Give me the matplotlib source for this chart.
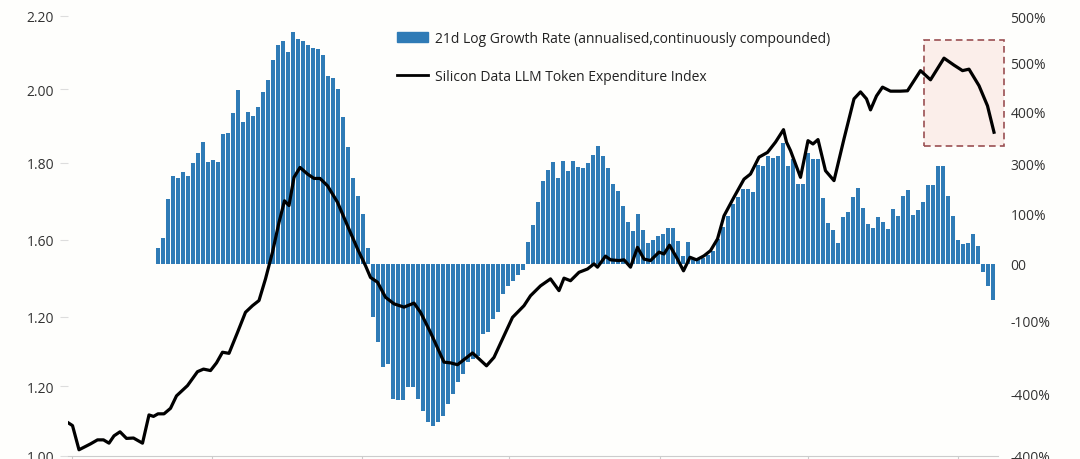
import matplotlib.pyplot as plt
import matplotlib.patches as mpatches
from matplotlib.lines import Line2D
import numpy as np

plt.rcParams['font.family'] = ['Open Sans', 'DejaVu Sans']

# 21d log growth rate, one bar per day (right axis units)
growth = [32, 52, 130, 176, 172, 184, 176, 202, 222, 244, 204, 208, 204, 260, 262,
          302, 348, 284, 304, 296, 314, 344, 368, 408, 438, 446, 424, 464, 450, 446,
          438, 432, 430, 418, 376, 372, 350, 294, 234, 172, 136, 100, 32,
          -106, -156, -206, -200, -270, -272, -272, -246, -246, -270, -294, -316, -324,
          -316, -304, -280, -260, -236, -220, -196, -190, -184, -140, -136, -110, -96,
          -60, -44, -34, -22, -12,
          44, 78, 124, 166, 188, 204, 172, 206, 186, 206, 194, 192, 202, 218, 236, 216,
          192, 160, 146, 116, 84, 66, 100, 68, 42, 48, 56, 60, 72, 72, 46, 16, 44, 12, 10,
          12, 18, 26, 50, 74, 96, 120, 134, 150, 150, 144, 198, 196, 216, 212, 216, 242,
          196, 210, 160, 160, 222, 210, 210, 132, 82, 68, 42, 94, 104, 134, 152, 112, 80,
          72, 94, 84, 70, 110, 96, 136, 148, 98, 108, 124, 158, 158, 196, 196, 136, 96,
          48, 40, 42, 60, 36, -16, -44, -72]
days = np.arange(len(growth))

# Silicon Data LLM Token Expenditure Index (left axis)
index_t = [-17.9, -17.1, -15.8, -14.5, -13.5, -12.1, -10.9, -9.8, -8.8, -7.6, -6.3, -4.9,
           -3.1, -1.8, -0.9, 0, 1.2, 2.5, 3.7, 5.9, 7.9, 9.1, 10.5, 11.7, 12.9, 14.2, 15.9,
           17.5, 18.9, 20.2, 21.5, 22.9, 24.2, 25.3, 26.2, 27.2, 28.4, 29.9, 31.2, 32.4,
           33.9, 35.9, 37.9, 39.9, 41.5, 42.5, 43.9, 45.5, 47.2, 49.2, 51.2, 52.5, 54.5,
           57.2, 58.5, 59.9, 61.5, 62.9, 64.2, 65.7, 67.2, 69.2, 70.9, 73.2, 74.5, 76.5,
           78.5, 80.2, 81.2, 82.5, 84.2, 85.9, 87.2, 87.9, 89.5, 90.5, 92.2, 93.2, 94.5,
           95.9, 97.2, 98.5, 100.2, 101.2, 102.3, 103.9, 105.1, 106.4, 107.7, 109.2, 110.5,
           111.9, 113.2, 115.2, 117.2, 118.5, 120.2, 121.9, 123.5, 125.1, 125.7, 126.5,
           128.5, 130.0, 131.0, 132.0, 133.5, 135.2, 137.2, 139.2, 140.5, 141.7, 142.5,
           143.7, 144.9, 146.5, 148.5, 149.9, 152.5, 154.5, 157.2, 159.2, 160.9, 162.2,
           164.2, 165.9, 167.2]
index_val = [1.090, 1.083, 1.017, 1.026, 1.033, 1.044, 1.044, 1.035, 1.055, 1.066, 1.048,
             1.049, 1.035, 1.112, 1.108, 1.115, 1.115, 1.130, 1.164, 1.192, 1.230, 1.237,
             1.233, 1.254, 1.283, 1.280, 1.337, 1.392, 1.410, 1.424, 1.483, 1.556, 1.637,
             1.696, 1.683, 1.760, 1.787, 1.769, 1.757, 1.757, 1.737, 1.692, 1.628, 1.565,
             1.519, 1.487, 1.474, 1.433, 1.415, 1.406, 1.417, 1.392, 1.337, 1.256, 1.254,
             1.249, 1.266, 1.281, 1.265, 1.246, 1.269, 1.328, 1.378, 1.410, 1.437, 1.464,
             1.483, 1.451, 1.485, 1.478, 1.501, 1.510, 1.524, 1.515, 1.545, 1.535, 1.533,
             1.535, 1.515, 1.569, 1.537, 1.533, 1.556, 1.551, 1.575, 1.537, 1.505, 1.542,
             1.535, 1.546, 1.560, 1.592, 1.655, 1.706, 1.755, 1.769, 1.815, 1.828, 1.856,
             1.890, 1.856, 1.833, 1.760, 1.860, 1.851, 1.863, 1.778, 1.751, 1.865, 1.974,
             1.993, 1.974, 1.944, 1.982, 2.006, 1.995, 1.995, 1.996, 2.051, 2.026, 2.085,
             2.066, 2.051, 2.055, 2.010, 1.955, 1.883]

left_ticks = [1.0, 1.19, 1.38, 1.59, 1.8, 2.0, 2.2]
left_labels = ['1.00', '1.20', '1.20', '1.60', '1.80', '2.00', '2.20']
right_ticks = [-384, -260, -114, 0, 102, 202, 304, 404, 496]
right_labels = ['-400%', '-400%', '-100%', '00', '100%', '300%', '400%', '500%', '500%']

bar_color = '#2f7bb6'
bg = '#fefefc'

fig = plt.figure(figsize=(10.8, 4.6), dpi=100, facecolor=bg)
ax = fig.add_axes([68 / 1080, 3 / 460, 930 / 1080, 440 / 460])
ax.set_facecolor(bg)
ax2 = ax.twinx()

ax2.bar(days, growth, width=0.62, color=bar_color, zorder=1)
ax2.set_ylim(-384, 496)
ax2.set_yticks(right_ticks, right_labels)
ax2.tick_params(axis='y', length=0, pad=9, labelsize=10, labelcolor='#333333')

# highlight box on the recent drop
box = mpatches.Rectangle((153.1, 1.846), 16.0, 0.289, facecolor='#fbeeea',
                         edgecolor='#9a4f52', linestyle=(0, (4, 2.5)), linewidth=1.2,
                         clip_on=False, zorder=0)
ax.add_patch(box)

ax.plot(index_t, index_val, color='black', lw=2.3, zorder=3)
ax.set_ylim(1.0, 2.2)
ax.set_xlim(-18, 168)
ax.set_yticks(left_ticks, left_labels)
ax.tick_params(axis='y', length=6, width=0.8, color='#dddddd', pad=4,
               labelsize=10, labelcolor='#333333')
ax.set_xticks([-17.3, 10.7, 40.7, 70.1, 100.3, 129.9, 159.9])
ax.tick_params(axis='x', length=3, color='#cccccc', labelbottom=False)

ax.set_zorder(ax2.get_zorder() + 1)
ax.patch.set_visible(False)
ax2.patch.set_visible(False)

for a in (ax, ax2):
    for s in ('top', 'right', 'left'):
        a.spines[s].set_visible(False)
ax.spines['bottom'].set_color('#cccccc')
ax2.spines['bottom'].set_visible(False)

handles = [mpatches.Patch(color=bar_color),
           Line2D([0], [0], color='black', lw=2)]
labels = ['21d Log Growth Rate (annualised,continuously compounded)',
          'Silicon Data LLM Token Expenditure Index']
fig.legend(handles, labels, loc='upper left', bbox_to_anchor=(384.5 / 1080, 1 - 19 / 460),
           frameon=False, fontsize=10, handlelength=2.25, handleheight=0.75,
           labelspacing=1.68, handletextpad=0.5, labelcolor='#222222')

fig.savefig('out.png', dpi=100, facecolor=bg)
